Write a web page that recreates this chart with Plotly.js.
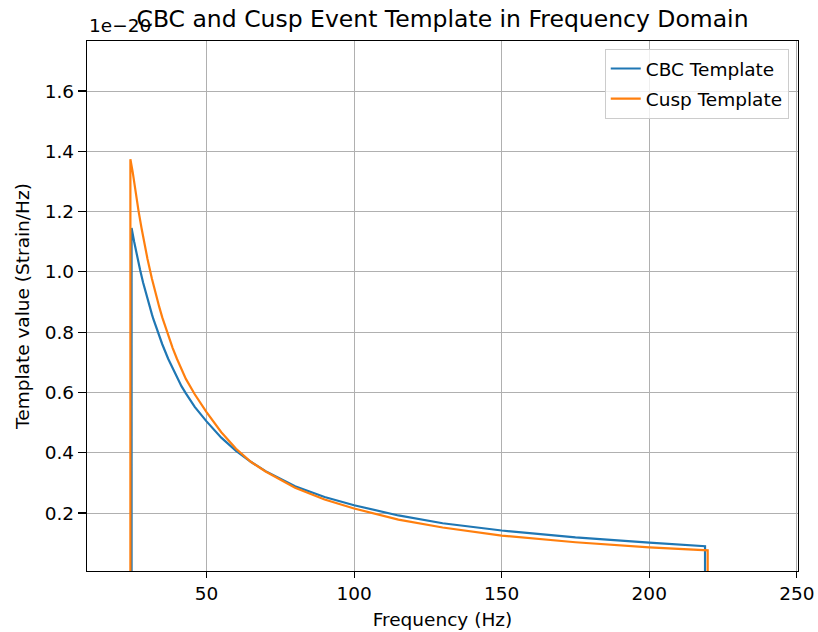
<!DOCTYPE html>
<html>
<head>
<meta charset="utf-8">
<script src="https://cdn.plot.ly/plotly-3.0.1.min.js"></script>
<style>
  html, body { margin: 0; padding: 0; background: #fff; }
  #chart { width: 818px; height: 632px; }
</style>
</head>
<body>
<div id="chart"></div>
<script>
// Values in units of 1e-20 Strain/Hz (axis offset shown as "1e−20")
const cbcFreq = [24.6, 24.6, 25.5, 26, 26.5, 27.5, 28.5, 29, 30, 31.5, 32, 33, 34, 35, 37, 38.5, 40, 41.5, 43, 46, 50, 55, 60, 65, 70, 80, 90, 100, 115, 130, 150, 175, 200, 218.9, 218.9];
const cbcValue = [0, 1.146, 1.099, 1.074, 1.051, 1.006, 0.965, 0.946, 0.909, 0.859, 0.843, 0.813, 0.786, 0.760, 0.712, 0.680, 0.650, 0.621, 0.597, 0.552, 0.504, 0.450, 0.406, 0.370, 0.339, 0.289, 0.253, 0.226, 0.192, 0.166, 0.142, 0.119, 0.102, 0.090, 0];

const cuspFreq = [24.2, 24.2, 25, 26, 27, 28, 29, 30, 31.5, 32, 33, 34, 35, 37, 38.5, 40, 41.5, 43, 46, 50, 55, 60, 65, 70, 80, 90, 100, 115, 130, 150, 175, 200, 219.8, 219.8];
const cuspValue = [0, 1.374, 1.330, 1.262, 1.200, 1.144, 1.091, 1.043, 0.977, 0.957, 0.919, 0.883, 0.849, 0.789, 0.748, 0.711, 0.677, 0.645, 0.594, 0.535, 0.468, 0.413, 0.370, 0.338, 0.284, 0.245, 0.215, 0.178, 0.152, 0.125, 0.103, 0.086, 0.076, 0];

const xTicks = [50, 100, 150, 200, 250];
const yTicks = [0.2, 0.4, 0.6, 0.8, 1.0, 1.2, 1.4, 1.6];
const yTickText = ['0.2', '0.4', '0.6', '0.8', '1.0', '1.2', '1.4', '1.6'];

const FONT = 'DejaVu Sans, sans-serif';
const FS = 18.5;

const traces = [
  {
    x: cbcFreq, y: cbcValue, type: 'scatter', mode: 'lines',
    name: 'CBC Template', legendgroup: 'a',
    line: { color: '#1f77b4', width: 2.2 }
  },
  {
    x: cuspFreq, y: cuspValue, type: 'scatter', mode: 'lines',
    name: 'Cusp Template', legendgroup: 'b',
    line: { color: '#ff7f0e', width: 2.2 }
  }
];

const axisCommon = {
  showline: true, linecolor: '#000', linewidth: 1.2, mirror: true,
  ticks: 'outside', tickwidth: 1.2, tickcolor: '#000',
  showgrid: true, gridcolor: '#b0b0b0', gridwidth: 1,
  zeroline: false,
  tickfont: { family: FONT, size: FS, color: '#000' }
};

const layout = {
  width: 818, height: 632,
  margin: { l: 87, r: 20, t: 41, b: 61 },
  paper_bgcolor: '#fff', plot_bgcolor: '#fff',
  font: { family: FONT, color: '#000' },
  title: {
    text: 'CBC and Cusp Event Template in Frequency Domain',
    font: { family: FONT, size: 23.5, color: '#000' },
    xref: 'paper', x: 0.5, xanchor: 'center',
    yref: 'container', y: 1 - 19 / 632, yanchor: 'middle'
  },
  xaxis: Object.assign({}, axisCommon, {
    range: [9.5, 250.4],
    ticklen: 6,
    tickvals: xTicks,
    ticktext: xTicks.map(String),
    title: { text: 'Frequency (Hz)', font: { family: FONT, size: FS, color: '#000' }, standoff: 9 }
  }),
  yaxis: Object.assign({}, axisCommon, {
    range: [0.0077, 1.766],
    ticklen: 8,
    tickvals: yTicks,
    ticktext: yTickText,
    title: { text: 'Template value (Strain/Hz)', font: { family: FONT, size: FS, color: '#000' }, standoff: 10 }
  }),
  showlegend: true,
  legend: {
    x: 0.987, xanchor: 'right', y: 0.985, yanchor: 'top',
    bgcolor: 'rgba(255,255,255,0.8)', bordercolor: '#cccccc', borderwidth: 1,
    font: { family: FONT, size: FS, color: '#000' },
    tracegroupgap: 3, traceorder: 'grouped'
  },
  annotations: [
    {
      text: '1e\u221220', xref: 'paper', yref: 'paper', x: 0, y: 1,
      xanchor: 'left', yanchor: 'bottom', yshift: 3, showarrow: false,
      font: { family: FONT, size: FS, color: '#000' }
    }
  ]
};

Plotly.newPlot('chart', traces, layout, { displayModeBar: false, staticPlot: true });
</script>
</body>
</html>
